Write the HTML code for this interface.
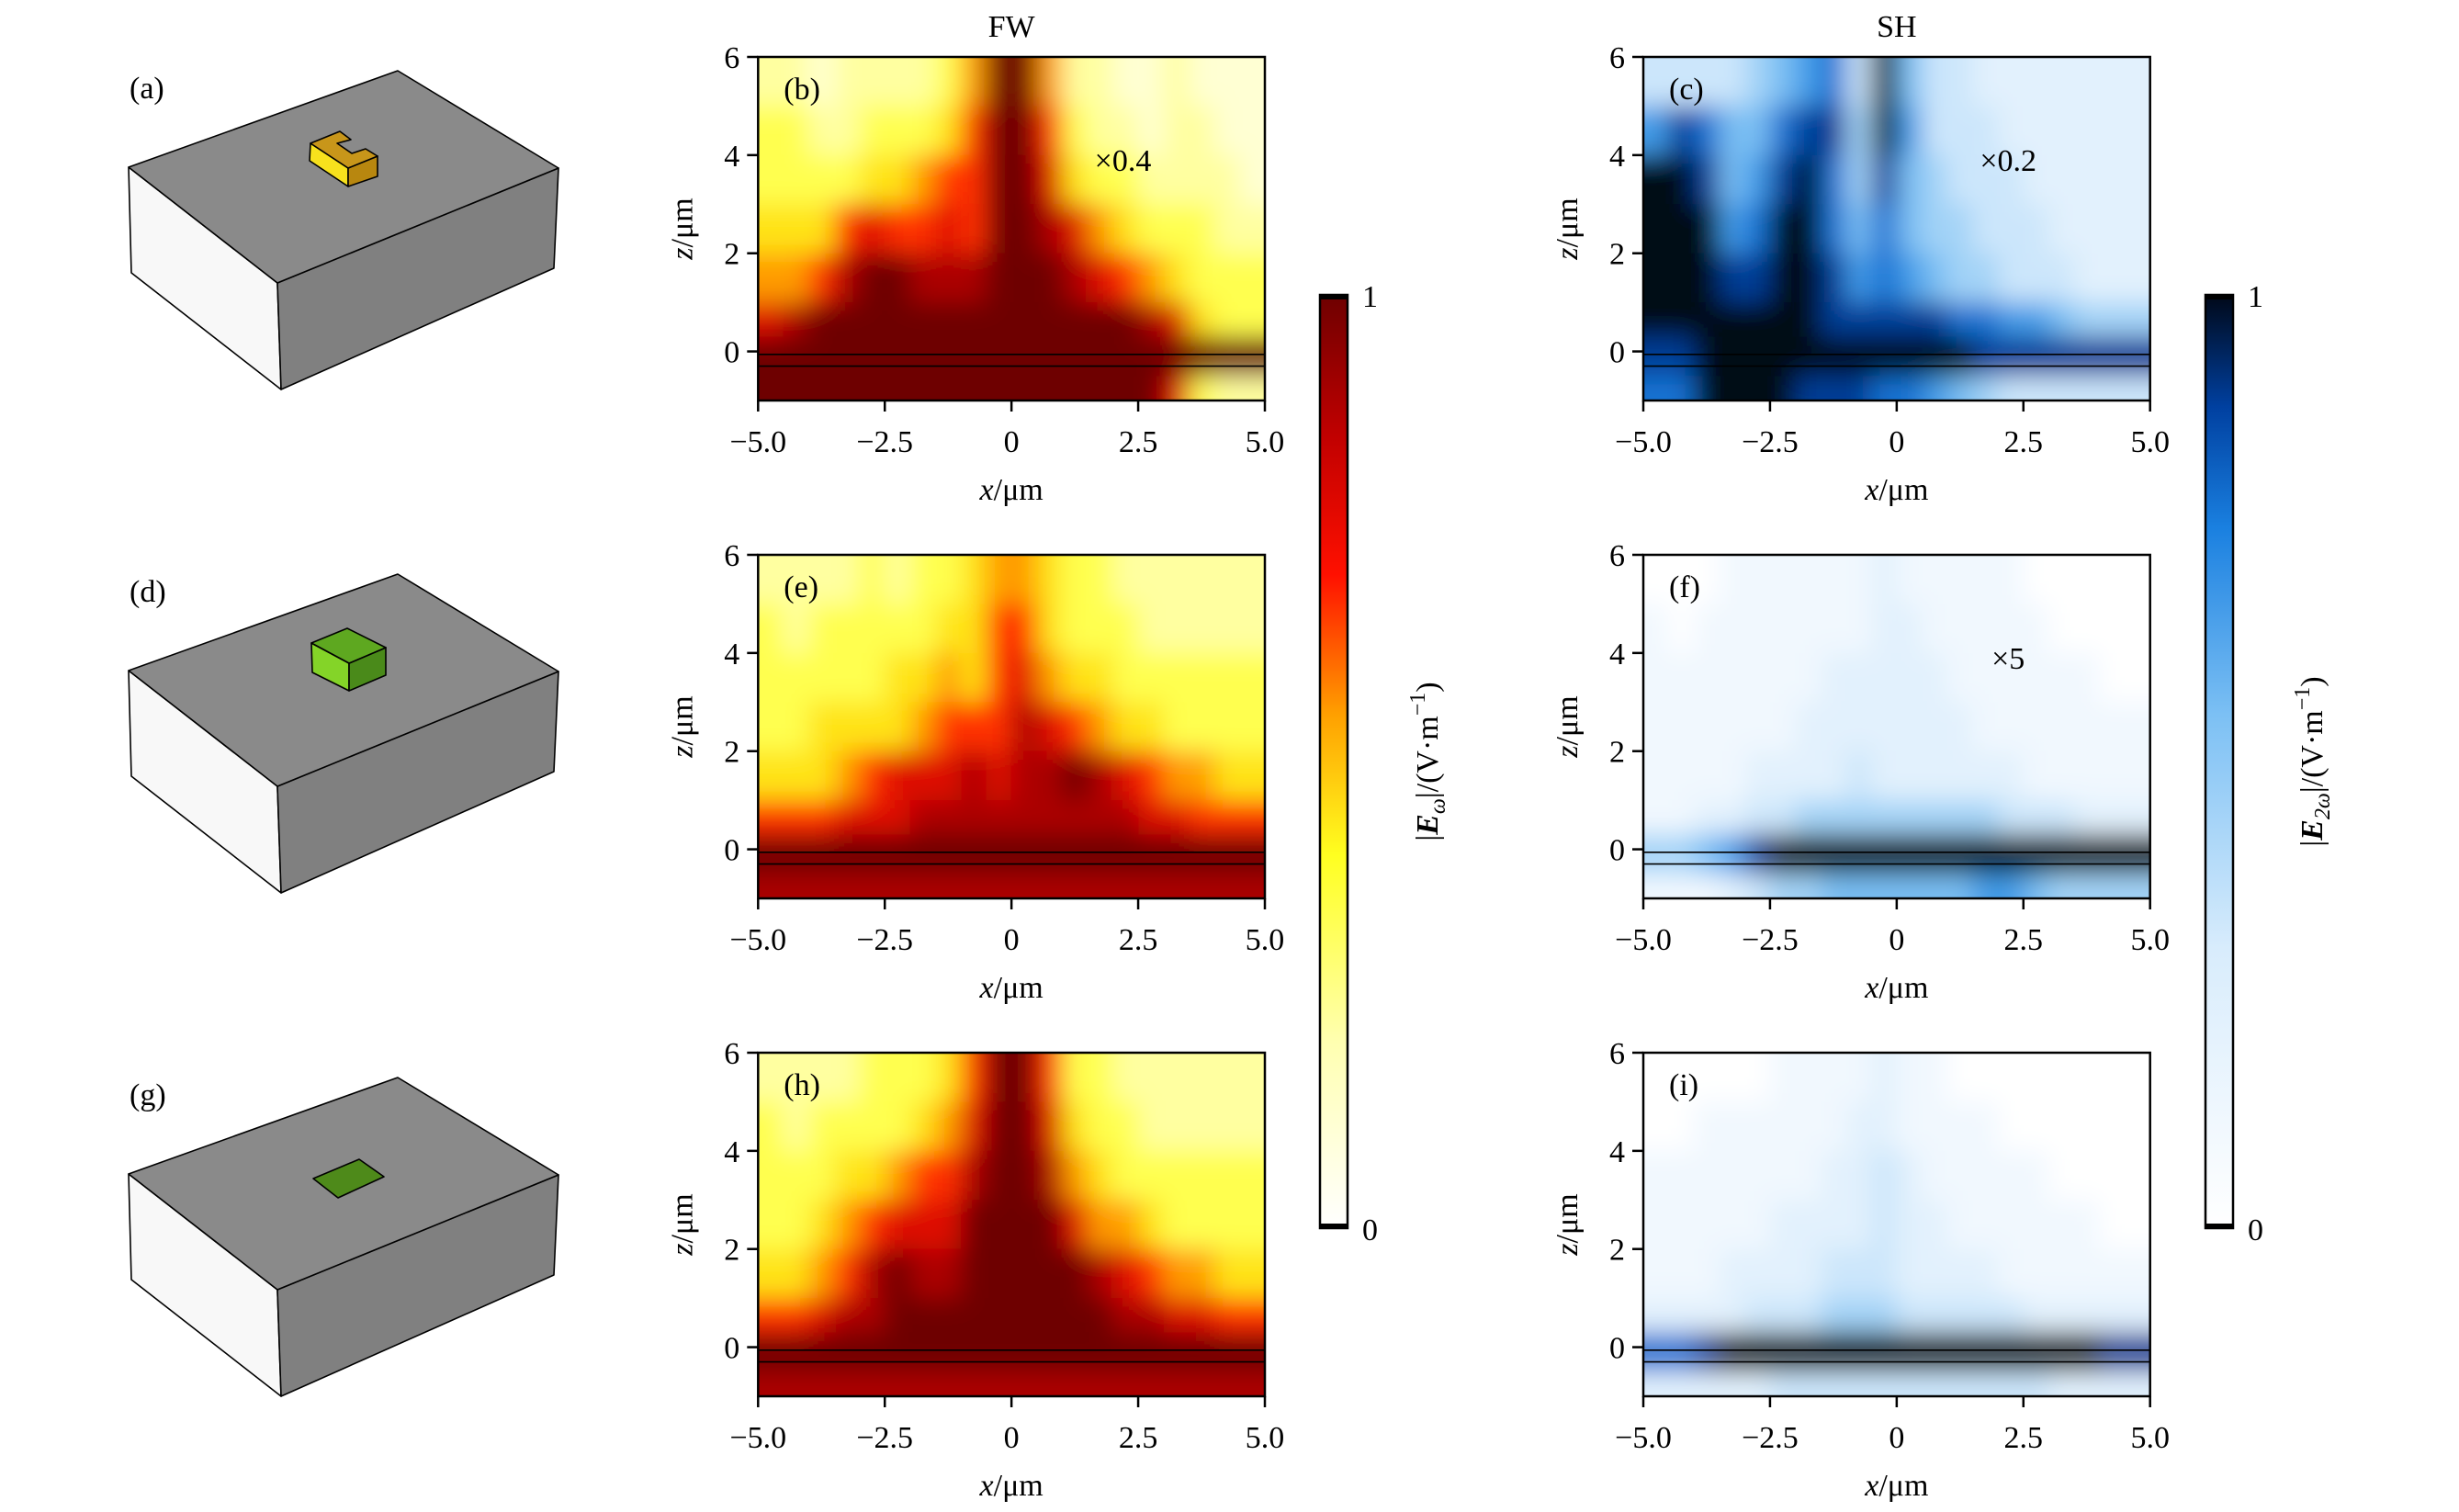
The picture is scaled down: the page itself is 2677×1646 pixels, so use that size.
<!DOCTYPE html>
<html><head><meta charset="utf-8">
<style>
html,body{margin:0;padding:0;background:#fff;}
svg{display:block;font-family:"Liberation Serif",serif;}
</style></head>
<body>
<svg id="fig" width="2677" height="1646" viewBox="0 0 2677 1646" xmlns="http://www.w3.org/2000/svg">
<defs>
<filter id="blur" filterUnits="userSpaceOnUse" x="0" y="0" width="2677" height="1646"><feGaussianBlur stdDeviation="14"/></filter>
<linearGradient id="fwGrad" x1="0" y1="1" x2="0" y2="0">
<stop offset="0" stop-color="#ffffff"/><stop offset="0.2" stop-color="#ffffb0"/><stop offset="0.4" stop-color="#ffff20"/><stop offset="0.55" stop-color="#ffa000"/><stop offset="0.7" stop-color="#ff1000"/><stop offset="0.85" stop-color="#c00000"/><stop offset="1" stop-color="#6e0000"/>
</linearGradient>
<linearGradient id="shGrad" x1="0" y1="1" x2="0" y2="0">
<stop offset="0" stop-color="#ffffff"/><stop offset="0.3" stop-color="#d8ecfc"/><stop offset="0.55" stop-color="#7cc0f4"/><stop offset="0.75" stop-color="#1a80e0"/><stop offset="0.88" stop-color="#0040a0"/><stop offset="1" stop-color="#000818"/>
</linearGradient>
</defs>
<g id="boxes"></g>
<g id="panels"></g>
</svg>
<script>
// ---- data ----
const xTicks = [-5, -2.5, 0, 2.5, 5];
const xTickLabels = ["\u22125.0", "\u22122.5", "0", "2.5", "5.0"];
const zTicks = [0, 2, 4, 6];
const zTickLabels = ["0", "2", "4", "6"];
const xEdges = [-5,-4.5,-4,-3.5,-3,-2.5,-2,-1.5,-1,-0.5,0,0.5,1,1.5,2,2.5,3,3.5,4,4.5,5];
const zEdges = [6,5,4,3,2,1,0.3,-0.5,-1];
const panelB = [
[2,2,1,2,2,2,2,3,5,9,9,5,2,2,1,1,2,1,1,1],
[3,3,2,2,3,3,3,4,6,9,9,6,3,2,2,1,2,2,1,1],
[3,3,3,3,4,4,5,6,6,9,9,7,4,3,3,2,2,2,2,1],
[4,4,4,6,7,6,6,7,6,9,9,8,7,5,4,3,3,3,2,2],
[5,5,6,8,9,9,8,8,8,9,9,9,8,7,6,5,4,3,3,3],
[7,8,9,9,9,9,9,9,9,9,9,9,9,9,9,8,7,4,3,3],
[9,9,9,9,9,9,9,9,9,9,9,9,9,9,9,9,9,9,9,9],
[9,9,9,9,9,9,9,9,9,9,9,9,9,9,9,9,7,3,2,2]];
const panelE = [
[2,2,2,2,3,2,3,3,4,5,5,4,3,3,2,2,2,2,2,2],
[3,2,3,3,3,3,3,4,4,6,6,4,3,3,3,2,2,2,2,2],
[3,3,3,3,3,4,4,5,4,6,7,5,4,4,3,3,3,3,3,3],
[3,3,4,4,4,4,5,6,6,6,8,7,6,5,4,4,3,3,3,3],
[4,4,4,5,6,7,7,7,8,7,8,8,9,8,7,6,5,5,4,4],
[6,6,6,7,7,7,8,8,8,8,8,8,8,8,8,7,7,6,6,6],
[9,9,9,9,9,9,9,9,9,9,9,9,9,9,9,9,9,9,9,9],
[8,8,8,8,8,8,8,8,8,8,8,8,8,8,8,8,8,8,8,8]];
const panelH = [
[2,2,2,2,3,3,3,4,6,9,9,6,3,3,2,2,2,2,2,2],
[3,2,3,3,3,3,4,5,7,9,9,7,4,3,3,2,2,2,2,2],
[3,3,3,4,4,5,6,6,8,9,9,8,5,4,3,3,3,3,3,3],
[3,3,4,5,6,7,7,7,9,9,9,9,7,5,5,4,3,3,3,3],
[4,4,5,6,8,9,8,8,9,9,9,9,9,8,7,6,5,5,4,4],
[6,6,7,8,8,9,9,9,9,9,9,9,9,9,8,8,7,7,6,6],
[9,9,9,9,9,9,9,9,9,9,9,9,9,9,9,9,9,9,9,9],
[8,8,8,8,8,8,8,8,8,8,8,8,8,8,8,8,8,8,8,8]];
const panelC = [
[3,3,3,3,4,5,6,7,3,9,5,3,3,2,2,2,2,2,2,2],
[6,8,7,5,5,7,8,8,4,9,6,3,3,3,2,2,2,2,2,2],
[9,9,8,5,6,8,9,7,4,8,5,4,3,3,3,2,2,2,2,2],
[9,9,9,6,7,9,9,7,5,7,5,4,4,3,3,3,2,2,2,2],
[9,9,9,8,8,9,9,8,6,7,6,5,4,4,3,3,3,2,2,2],
[9,9,9,9,9,9,9,8,8,8,8,8,7,7,6,6,5,4,4,4],
[8,8,9,9,9,9,9,9,9,9,9,9,9,8,8,8,8,8,8,8],
[7,7,9,9,9,9,8,8,8,7,7,6,5,4,3,3,3,3,3,3]];
const panelF = [
[0,0,0,1,1,1,1,1,1,2,1,1,1,1,1,0,0,0,0,0],
[1,0,1,1,1,1,1,1,1,2,2,1,1,1,1,1,0,0,0,0],
[1,1,1,1,1,1,1,2,2,2,2,2,1,1,1,1,1,1,0,0],
[1,1,1,1,1,1,2,2,2,2,2,2,2,1,1,1,1,1,1,1],
[1,1,1,1,2,2,2,2,3,2,2,2,2,2,2,1,1,1,1,1],
[1,1,2,2,3,3,4,4,4,4,4,4,4,4,3,3,3,2,2,2],
[4,4,5,6,8,9,9,9,9,9,9,9,9,9,9,9,9,9,9,9],
[1,1,1,2,3,4,4,5,5,5,5,5,5,6,6,5,4,4,4,4]];
const panelI = [
[0,0,0,0,0,1,1,1,1,2,1,1,0,0,0,0,0,0,0,0],
[0,0,1,1,1,1,1,1,2,2,1,1,1,1,0,0,0,0,0,0],
[1,1,1,1,1,1,1,2,2,3,2,1,1,1,1,1,0,0,0,0],
[1,1,1,1,1,2,2,2,2,3,2,2,1,1,1,1,1,1,0,0],
[1,1,1,2,2,2,2,3,3,3,2,2,2,2,1,1,1,1,1,1],
[2,2,2,2,3,3,3,4,4,4,3,3,3,3,3,2,2,2,2,2],
[7,7,8,9,9,9,9,9,9,9,9,9,9,9,9,9,9,9,8,8],
[2,2,2,2,2,3,3,3,3,3,3,3,3,3,3,3,2,2,2,2]];

// ---- helpers ----
const NS = "http://www.w3.org/2000/svg";
function mk(tag, attrs, parent) {
  const e = document.createElementNS(NS, tag);
  for (const k in attrs) e.setAttribute(k, attrs[k]);
  if (parent) parent.appendChild(e);
  return e;
}
function hex(c){return [parseInt(c.slice(1,3),16),parseInt(c.slice(3,5),16),parseInt(c.slice(5,7),16)];}
const fwStops = [[0,"#ffffff"],[0.2,"#ffffb0"],[0.4,"#ffff20"],[0.55,"#ffa000"],[0.7,"#ff1000"],[0.85,"#c00000"],[1,"#6e0000"]];
const shStops = [[0,"#ffffff"],[0.3,"#d8ecfc"],[0.55,"#7cc0f4"],[0.75,"#1a80e0"],[0.88,"#0040a0"],[1,"#000818"]];
function cmap(stops, t) {
  t = Math.max(0, Math.min(1, t));
  for (let i = 1; i < stops.length; i++) {
    if (t <= stops[i][0]) {
      const a = stops[i-1], b = stops[i], f = (t - a[0]) / (b[0] - a[0]);
      const ca = hex(a[1]), cb = hex(b[1]);
      return "rgb(" + ca.map((v, k) => Math.round(v + (cb[k] - v) * f)).join(",") + ")";
    }
  }
  return stops[stops.length-1][1];
}

const svg = document.getElementById("fig");
const panelsG = document.getElementById("panels");
const colX = [825.3, 1789];
const PW = 551.7, PH = 374;
const rowY = [62, 604, 1146];

const panels = [
  {id:"b", data:panelB, col:0, row:0, stops:fwStops, note:"\u00d70.4"},
  {id:"c", data:panelC, col:1, row:0, stops:shStops, note:"\u00d70.2"},
  {id:"e", data:panelE, col:0, row:1, stops:fwStops, note:""},
  {id:"f", data:panelF, col:1, row:1, stops:shStops, note:"\u00d75"},
  {id:"h", data:panelH, col:0, row:2, stops:fwStops, note:""},
  {id:"i", data:panelI, col:1, row:2, stops:shStops, note:""}
];

panels.forEach(p => {
  const x0 = colX[p.col], y0 = rowY[p.row];
  const xs = x => x0 + (x + 5) / 10 * PW;
  const zs = z => y0 + (6 - z) / 7 * PH;
  const g = mk("g", {}, panelsG);
  
  
  const clipId = "clip" + p.id;
  const cp = mk("clipPath", {id: clipId}, g);
  mk("rect", {x: x0, y: y0, width: PW, height: PH}, cp);
  const clipG = mk("g", {"clip-path": "url(#" + clipId + ")"}, g);
  const cells = mk("g", {filter: "url(#blur)"}, clipG);
  const nr = zEdges.length - 1, nc = xEdges.length - 1;
  for (let r = 0; r < nr; r++) {
    for (let c = 0; c < nc; c++) {
      let xa = xs(xEdges[c]), xb = xs(xEdges[c+1]);
      let ya = zs(zEdges[r]), yb = zs(zEdges[r+1]);
      if (c === 0) xa -= 40;
      if (c === nc - 1) xb += 40;
      if (r === 0) ya -= 40;
      if (r === nr - 1) yb += 40;
      const cell = mk("rect", {x: xa, y: ya, width: xb - xa + 0.5, height: yb - ya + 0.5,
        fill: cmap(p.stops, p.data[r][c] / 9)}, cells);
      
      
    }
  }
  [-0.06, -0.3].forEach(z => {
    const l = mk("line", {x1: x0, x2: x0 + PW, y1: zs(z), y2: zs(z), stroke: "#000", "stroke-width": 1.6}, clipG);
    
    
  });
  const fr = mk("rect", {x: x0, y: y0, width: PW, height: PH, fill: "none", stroke: "#000", "stroke-width": 2.5}, g);
  
  
  xTicks.forEach((t, i) => {
    mk("line", {x1: xs(t), x2: xs(t), y1: y0 + PH, y2: y0 + PH + 12, stroke: "#000", "stroke-width": 2.5}, g);
    const tl = mk("text", {x: xs(t), y: y0 + PH + 56, "font-size": 34, "text-anchor": "middle"}, g);
    tl.textContent = xTickLabels[i];
    
    
  });
  zTicks.forEach((t, i) => {
    mk("line", {x1: x0 - 12, x2: x0, y1: zs(t), y2: zs(t), stroke: "#000", "stroke-width": 2.5}, g);
    const tl = mk("text", {x: x0 - 20, y: zs(t) + 12, "font-size": 34, "text-anchor": "end"}, g);
    tl.textContent = zTickLabels[i];
    
    
  });
  const xt = mk("text", {x: x0 + PW / 2, y: y0 + PH + 108, "font-size": 34, "text-anchor": "middle"}, g);
  xt.innerHTML = '<tspan font-style="italic">x</tspan>/\u03bcm';
  
  
  const zy = y0 + PH / 2, zx = x0 - 72;
  const zt = mk("text", {x: zx, y: zy, "font-size": 34, "text-anchor": "middle", transform: "rotate(-90 " + zx + " " + zy + ")"}, g);
  zt.innerHTML = '<tspan font-style="italic">z</tspan>/\u03bcm';
  
  
  const pl = mk("text", {x: x0 + 28, y: y0 + 46, "font-size": 34}, g);
  pl.textContent = "(" + p.id + ")";
  
  
  if (p.note) {
    const nt = mk("text", {x: x0 + PW * 0.72, y: y0 + 124, "font-size": 34, "text-anchor": "middle"}, g);
    nt.textContent = p.note;
    
    
  }
});

[["FW", colX[0] + PW / 2], ["SH", colX[1] + PW / 2]].forEach(a => {
  const t = mk("text", {x: a[1], y: 40, "font-size": 34, "text-anchor": "middle"}, panelsG);
  t.textContent = a[0];
  
  
});

[[1437, "url(#fwGrad)", "\u03c9", 1565], [2401, "url(#shGrad)", "2\u03c9", 2528]].forEach(cb => {
  const g = mk("g", {}, panelsG);
  
  
  mk("rect", {x: cb[0], y: 321, width: 30, height: 1016, fill: cb[1], stroke: "#000", "stroke-width": 2.5}, g);
  mk("rect", {x: cb[0], y: 321, width: 30, height: 5, fill: "#000"}, g);
  mk("rect", {x: cb[0], y: 1332, width: 30, height: 5, fill: "#000"}, g);
  const t1 = mk("text", {x: cb[0] + 46, y: 334, "font-size": 34}, g);
  t1.textContent = "1";
  
  
  const t0 = mk("text", {x: cb[0] + 46, y: 1350, "font-size": 34}, g);
  t0.textContent = "0";
  
  
  const cy = 829;
  const lab = mk("text", {x: cb[3], y: cy, "font-size": 34, "text-anchor": "middle", transform: "rotate(-90 " + cb[3] + " " + cy + ")"}, g);
  lab.innerHTML = '|<tspan font-weight="bold" font-style="italic">E</tspan><tspan font-size="24" dy="8" font-style="italic">' + cb[2] + '</tspan><tspan dy="-8">|/(V\u00b7m</tspan><tspan font-size="24" dy="-14">\u22121</tspan><tspan dy="14">)</tspan>';
  
  
});

const boxesG = document.getElementById("boxes");
const boxOff = [0, 548, 1096];
const boxLabels = ["(a)", "(d)", "(g)"];
function poly(pts, dy, fill, parent, name) {
  const e = mk("polygon", {points: pts.map(p => p[0] + "," + (p[1] + dy)).join(" "), fill: fill, stroke: "#000", "stroke-width": 1.6, "stroke-linejoin": "round"}, parent);
  
  
  return e;
}
boxOff.forEach((dy, i) => {
  const g = mk("g", {}, boxesG);
  
  
  poly([[140,182],[302,308],[306,424],[143,297]], dy, "#f8f8f8", g, "substrate-left-face");
  poly([[302,308],[608,183],[603,292],[306,424]], dy, "#808080", g, "substrate-right-face");
  poly([[140,182],[433,77],[608,183],[302,308]], dy, "#8a8a8a", g, "substrate-top-face");
  const lb = mk("text", {x: 141, y: 107 + dy, "font-size": 34}, g);
  lb.textContent = boxLabels[i];
  
  
  if (i === 0) {
    poly([[338,156],[379,183],[379,203],[337,175]], dy, "#f7e11d", g, "antenna-front-face");
    poly([[379,183],[411,170],[411,192],[379,203]], dy, "#b8870f", g, "antenna-side-face");
    poly([[338,156],[370,143],[382,152],[367,156],[383,167],[398,162],[411,170],[379,183]], dy, "#c8961a", g, "antenna-top-face");
  } else if (i === 1) {
    poly([[339,152],[380,174],[380,204],[340,184]], dy, "#84d428", g, "cube-front-face");
    poly([[380,174],[420,157],[420,187],[380,204]], dy, "#4a8a1a", g, "cube-side-face");
    poly([[339,152],[378,136],[420,157],[380,174]], dy, "#5ea820", g, "cube-top-face");
  } else {
    poly([[341,187],[391,166],[418,185],[368,208]], dy, "#4e8a1a", g, "film-patch");
  }
});
</script>
</body></html>
